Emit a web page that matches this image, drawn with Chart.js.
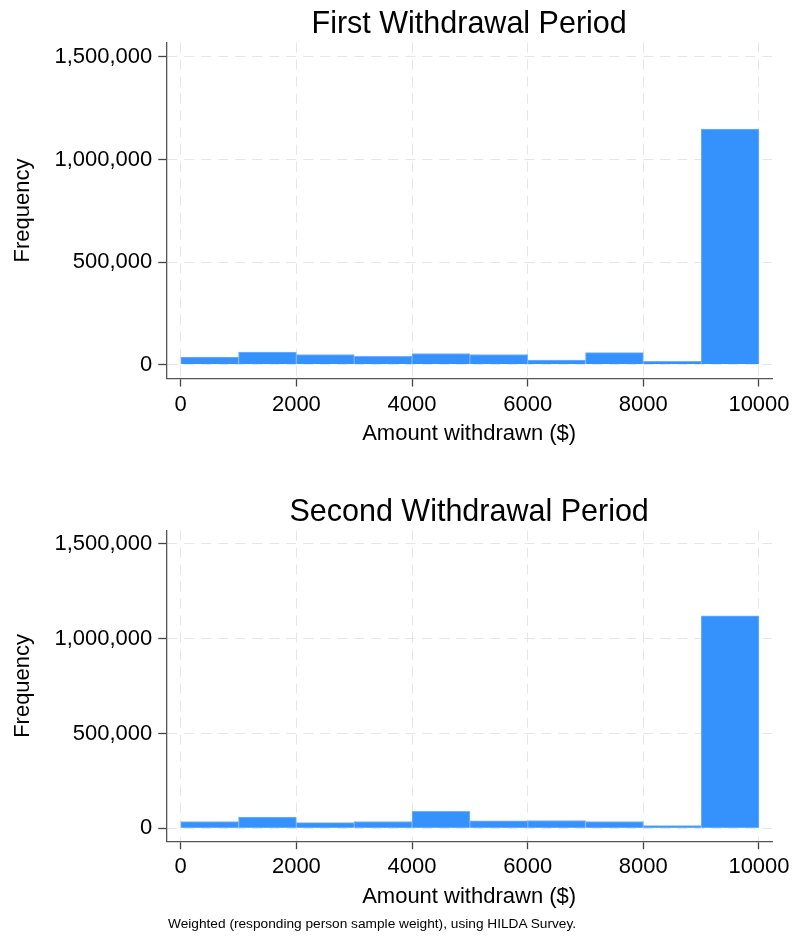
<!DOCTYPE html>
<html>
<head>
<meta charset="utf-8">
<script src="https://cdn.jsdelivr.net/npm/chart.js@4.4.1/dist/chart.umd.min.js"></script>
<style>
  body{margin:0;background:#fff;width:792px;height:937px;position:relative;overflow:hidden;font-family:"Liberation Sans",Arial,Helvetica,sans-serif;}
  .box{position:absolute;left:0;width:792px;}
  #note{position:absolute;left:168px;top:915px;font-size:13.7px;line-height:18px;color:#000;white-space:nowrap;}
</style>
</head>
<body>
<div class="box" style="top:0;height:460px"><canvas id="c1" width="792" height="460"></canvas></div>
<div class="box" style="top:488px;height:432px"><canvas id="c2" width="792" height="432"></canvas></div>
<div id="note">Weighted (responding person sample weight), using HILDA Survey.</div>
<script>
// histogram bins ($1000 wide), value = weighted frequency
const binMids = [500,1500,2500,3500,4500,5500,6500,7500,8500,9500];
const firstPeriod = [36000,61000,49000,40000,54000,49000,22000,58000,16000,1148000];
const secondPeriod = [36000,59000,30000,36000,90000,39000,41000,36000,14000,1120000];
const xTicks = [0,2000,4000,6000,8000,10000];
const yTicks = [0,500000,1000000,1500000];

const fontFam = '"Liberation Sans", Arial, Helvetica, sans-serif';

function makeChart(id, title, vals, padBottom){
  const pts = binMids.map((m,i)=>({x:m, y:vals[i]}));
  return new Chart(document.getElementById(id), {
    type: 'bar',
    data: {
      datasets: [{
        data: pts,
        backgroundColor: '#3592fd',
        borderColor: '#74b0ff',
        borderWidth: 1,
        barPercentage: 1,
        categoryPercentage: 1
      }]
    },
    options: {
      responsive: false,
      animation: false,
      layout: {padding: {left: 8, right: 20, top: 0, bottom: padBottom}},
      plugins: {
        legend: {display: false},
        tooltip: {enabled: false},
        title: {
          display: true,
          text: title,
          fullSize: false,
          color: '#000',
          font: {family: fontFam, size: 30.5, weight: 'normal'},
          padding: {top: 6, bottom: 0}
        }
      },
      scales: {
        x: {
          type: 'linear',
          min: -250,
          max: 10225,
          offset: false,
          afterBuildTicks: (s)=>{ s.ticks = xTicks.map(v=>({value:v})); },
          afterFit: (s)=>{ s.paddingRight = 0; },
          ticks: {color:'#000', padding:5, maxRotation:0, font:{family:fontFam, size:22}, callback:(v)=>String(v)},
          grid: {offset:false, color:'#e6e6e6', lineWidth:1, tickColor:'#444', tickLength:8, tickWidth:1.3},
          border: {color:'#555', width:1.3, dash:[10,7]},
          title: {display:true, text:'Amount withdrawn ($)', color:'#000', font:{family:fontFam, size:22}, padding:{top:-2, bottom:4}}
        },
        y: {
          min: -68000,
          max: 1570000,
          afterBuildTicks: (s)=>{ s.ticks = yTicks.map(v=>({value:v})); },
          ticks: {color:'#000', padding:6, font:{family:fontFam, size:22}, callback:(v)=>v.toLocaleString('en-US')},
          grid: {color:'#e6e6e6', lineWidth:1, tickColor:'#444', tickLength:8, tickWidth:1.3},
          border: {color:'#555', width:1.3, dash:[10,7]},
          title: {display:true, text:'Frequency', color:'#000', font:{family:fontFam, size:22}, padding:{top:2, bottom:12}}
        }
      }
    }
  });
}

makeChart('c1', 'First Withdrawal Period', firstPeriod, 8.7);
makeChart('c2', 'Second Withdrawal Period', secondPeriod, 6);
</script>
</body>
</html>
